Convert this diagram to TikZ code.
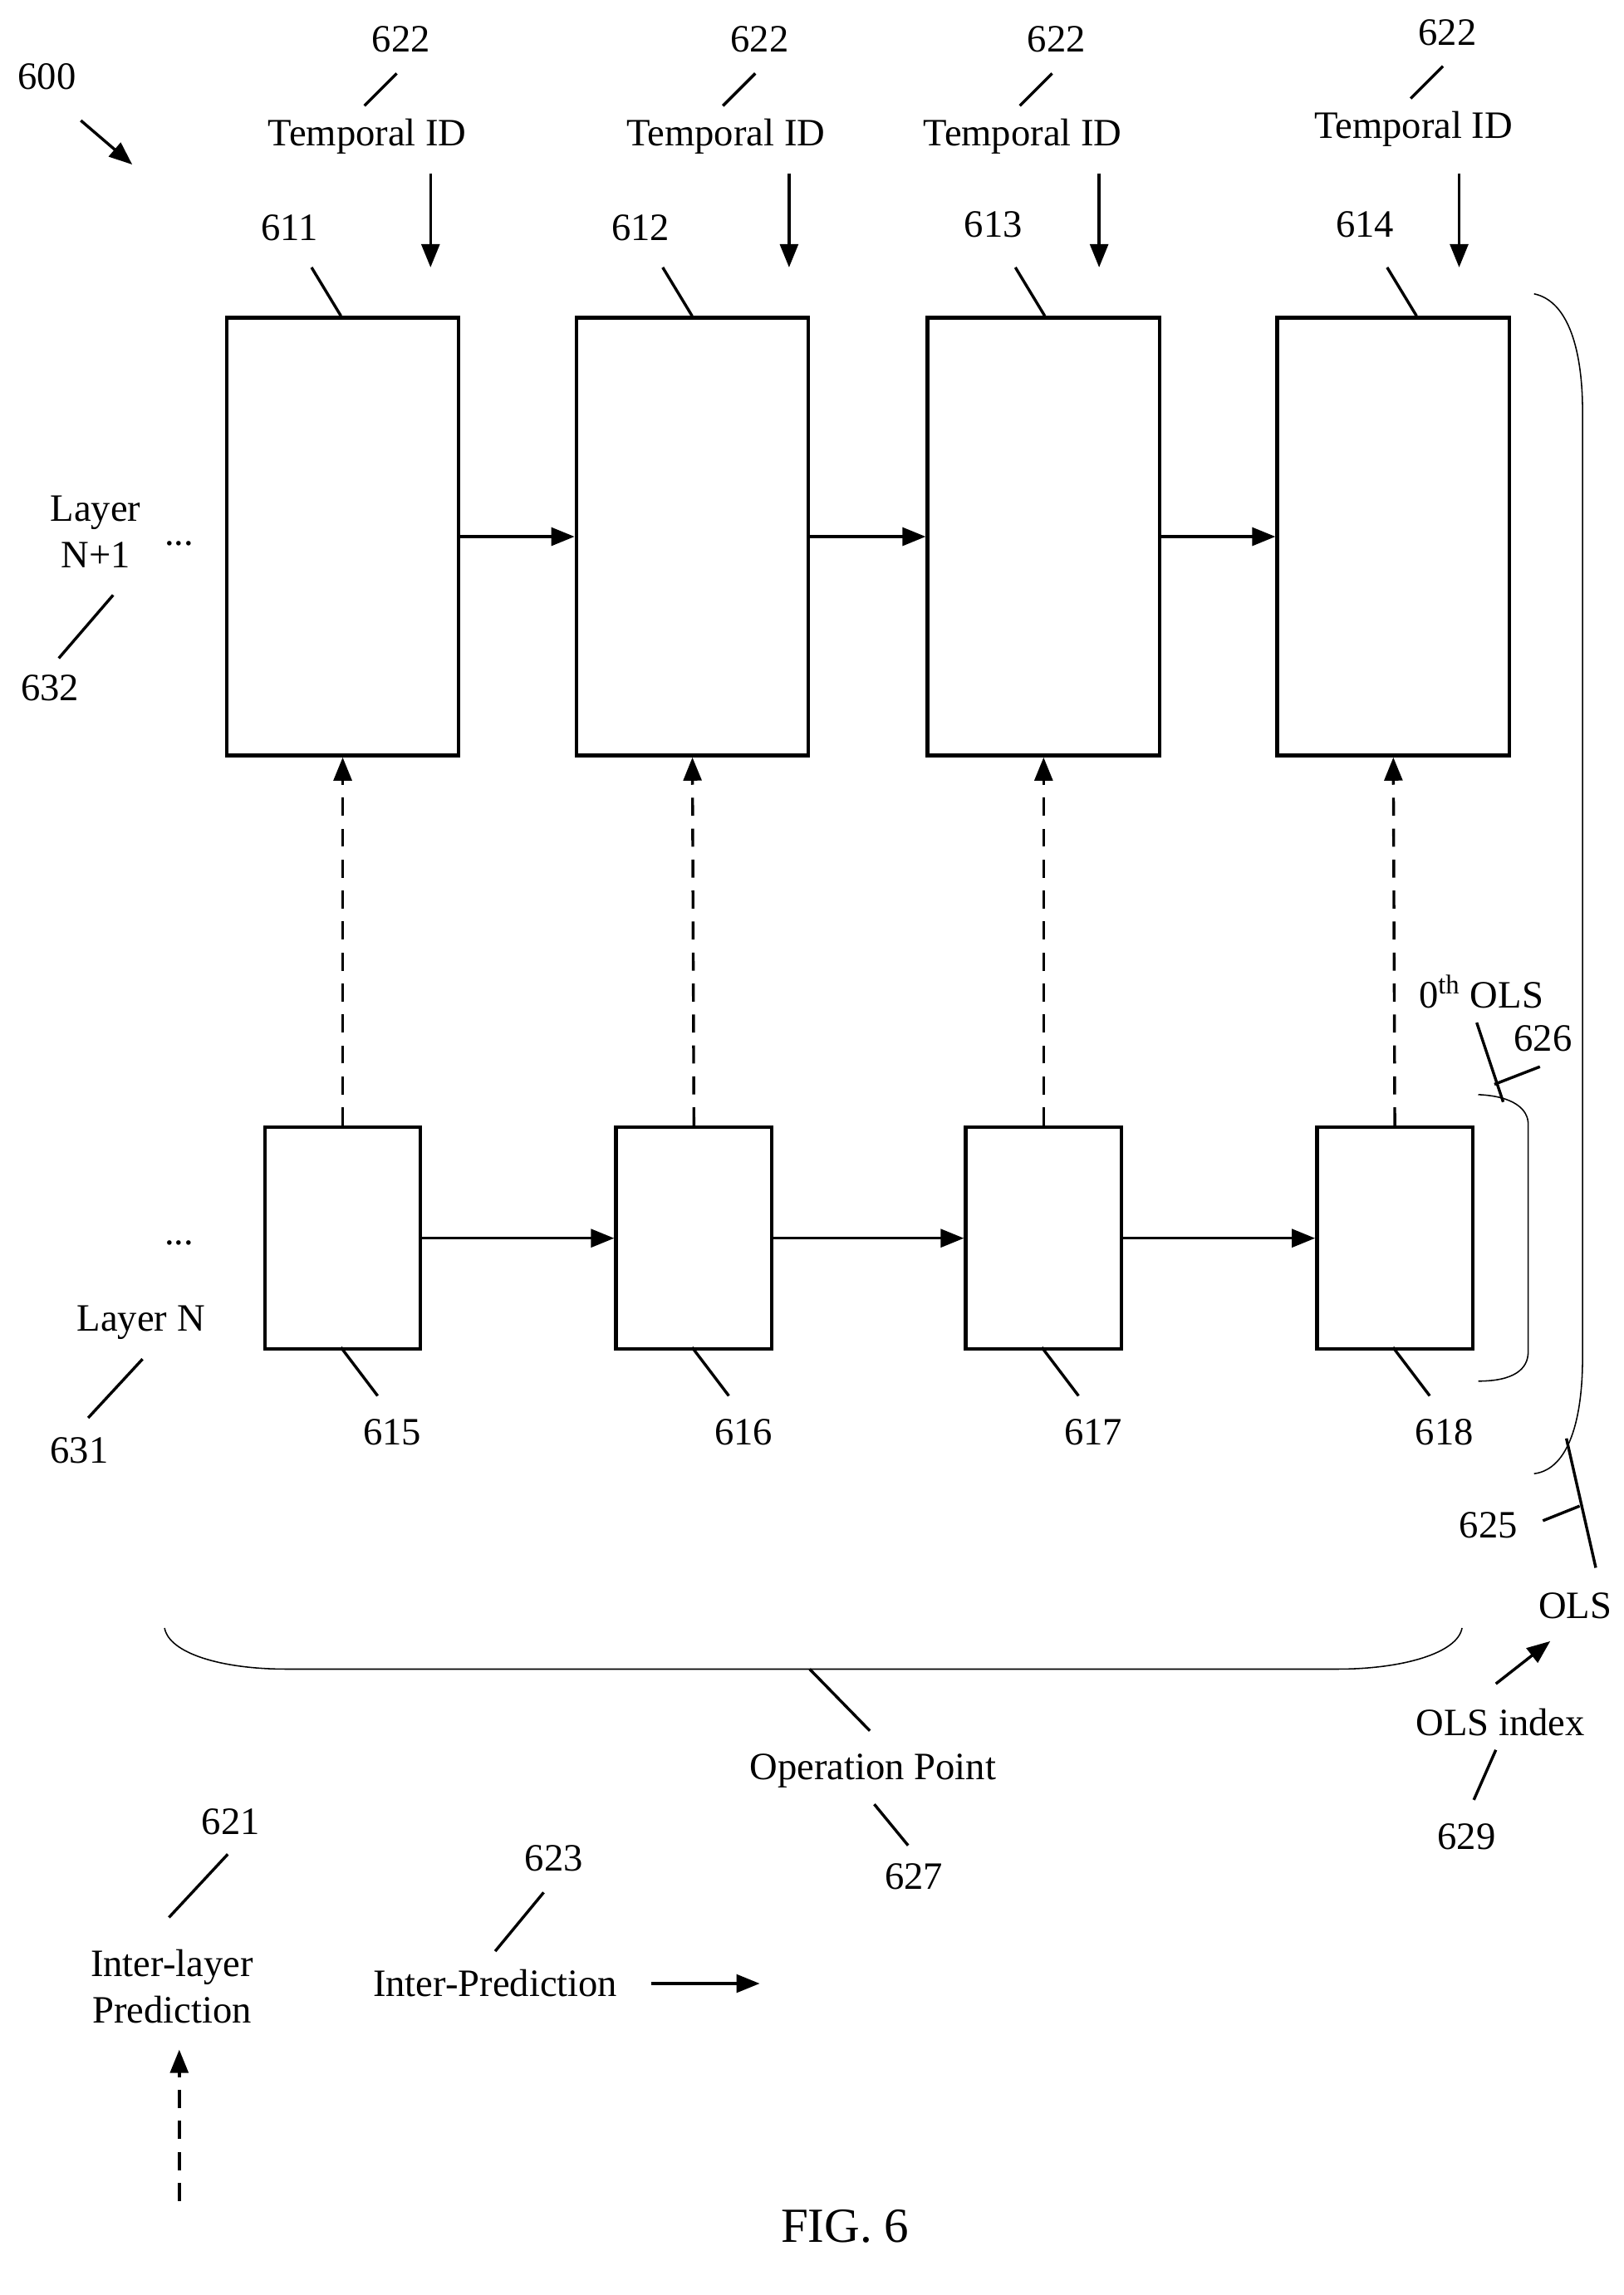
\documentclass[tikz,border=0pt]{standalone}
\usepackage{fontspec}
\setmainfont{Liberation Serif}
\usetikzlibrary{arrows.meta}
\begin{document}
\begin{tikzpicture}[x=0.02cm,y=-0.02cm,
  box/.style={draw,line width=1.4pt,inner sep=0pt},
  lbl/.style={font=\fontsize{15}{18}\selectfont,inner sep=1pt},
  lead/.style={line width=1.1pt},
  arr/.style={line width=1.1pt,-{Triangle[length=9pt,width=7pt]}},
  darr/.style={arr,dash pattern=on 7pt off 5pt},
  br/.style={line width=0.5pt}]
\useasboundingbox (0,0) rectangle (1105,1562);
% top boxes
\foreach \n/\x in {611/153,612/391,613/630,614/868}{
  \node[box,minimum width=158*0.02cm,minimum height=298*0.02cm,anchor=north west] (b\n) at (\x,215) {};}
\foreach \n/\x in {615/179,616/418,617/656,618/895}{
  \node[box,minimum width=106*0.02cm,minimum height=151*0.02cm,anchor=north west] (b\n) at (\x,766) {};}
\draw[arr] (b611.east) -- (b612.west);
\draw[arr] (b612.east) -- (b613.west);
\draw[arr] (b613.east) -- (b614.west);
\draw[arr] (b615.east) -- (b616.west);
\draw[arr] (b616.east) -- (b617.west);
\draw[arr] (b617.east) -- (b618.west);
\draw[darr] (b615.north) -- (b611.south);
\draw[darr] (b616.north) -- (b612.south);
\draw[darr] (b617.north) -- (b613.south);
\draw[darr] (b618.north) -- (b614.south);
% top labels
\foreach \n/\x/\ly/\tx/\ty/\ax/\ny in {611/197/155/250/93/293/27,612/436/155/494/93/537/27,613/676/153/696/93/748/27,614/929/153/962/88/993/22}{
  \node[lbl] (l\n) at (\x,\ly) {\n};
  \draw[lead] (\x+15,182) -- (\x+35,215);
  \node[lbl] (t\n) at (\tx,\ty) {Temporal ID};
  \node[lbl] (n\n) at (\tx+23,\ny) {622};
  \draw[lead] (\tx+20,\ny+23) -- (\tx-2,\ny+45);
  \coordinate (as\n) at (\ax,118);
  \coordinate (ae\n) at (\ax,182);
  \draw[arr] (as\n) -- (ae\n);
}
% bottom labels
\foreach \n/\x in {615/267,616/506,617/744,618/983}{
  \node[lbl] (l\n) at (\x,975) {\n};
  \draw[lead] (\x-35,917) -- (\x-10,950);
}
\node[lbl] (s600) at (32,52) {600};
\coordinate (p600a) at (55,82); \coordinate (p600b) at (90,112);
\draw[arr] (p600a) -- (p600b);
\node[lbl,align=center] (ln1) at (65,362) {Layer\\N+1};
\node[lbl] (d1) at (122,370) {...};
\node[lbl] (l632) at (34,468) {632};
\draw[lead] (40,448) -- (77,405);
\node[lbl] (d2) at (122,846) {...};
\node[lbl] (ln) at (96,900) {Layer N};
\node[lbl] (l631) at (54,987) {631};
\draw[lead] (60,965) -- (97,925);
% small brace
\draw[br] (1006,745) .. controls (1030,746) and (1040,755) .. (1040,765) -- (1040,920) .. controls (1040,932) and (1030,940) .. (1006,940);
\node[lbl] (o0) at (1008,675) {0\textsuperscript{th} OLS};
\node[lbl] (l626) at (1050,707) {626};
\draw[lead] (1005,696) -- (1023,750);
\draw[lead] (1017,738) -- (1048,726);
% big brace
\draw[br] (1044,200) .. controls (1068,205) and (1077,240) .. (1077,280) -- (1077,924) .. controls (1077,965) and (1068,1000) .. (1044,1003);
\node[lbl] (l625) at (1013,1038) {625};
\draw[lead] (1066,979) -- (1086,1067);
\draw[lead] (1050,1035) -- (1075,1025);
\node[lbl] (ols) at (1072,1093) {OLS};
\node[lbl] (olsi) at (1021,1172) {OLS index};
\coordinate (oa) at (1018,1146); \coordinate (ob) at (1055,1117);
\draw[arr] (oa) -- (ob);
\node[lbl] (l629) at (998,1250) {629};
\draw[lead] (1018,1191) -- (1003,1225);
% bottom brace
\draw[br] (112,1108) .. controls (115,1125) and (150,1136) .. (195,1136) -- (910,1136) .. controls (955,1136) and (992,1125) .. (995,1108);
\draw[lead] (551,1136) -- (592,1178);
\node[lbl] (op) at (594,1205) {Operation Point};
\node[lbl] (l627) at (622,1277) {627};
\draw[lead] (595,1228) -- (618,1256);
% legend
\node[lbl] (l621) at (157,1240) {621};
\draw[lead] (155,1262) -- (115,1305);
\node[lbl,align=center] (ilp) at (117,1352) {Inter-layer\\Prediction};
\coordinate (da) at (122,1498); \coordinate (db) at (122,1395);
\draw[darr] (da) -- (db);
\node[lbl] (l623) at (377,1265) {623};
\draw[lead] (370,1288) -- (337,1328);
\node[lbl] (ip) at (337,1350) {Inter-Prediction};
\coordinate (ia) at (443,1350); \coordinate (ib) at (517,1350);
\draw[arr] (ia) -- (ib);
\node[font=\fontsize{19}{22}\selectfont] (fig) at (575,1515) {FIG. 6};
\end{tikzpicture}
\end{document}
